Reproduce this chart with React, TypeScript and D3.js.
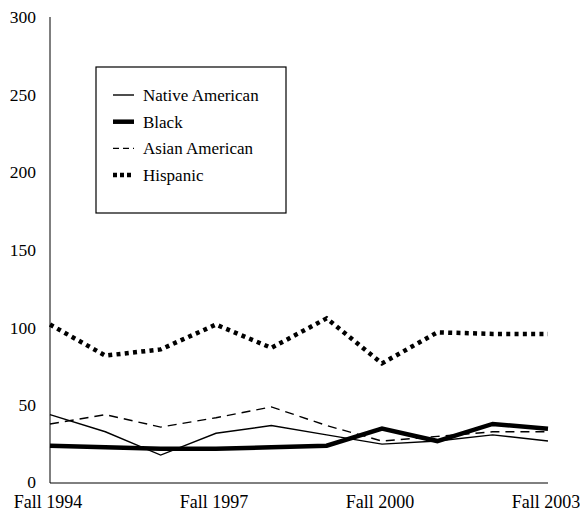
import React from "react";
import * as d3 from "d3";

const years = [1994, 1995, 1996, 1997, 1998, 1999, 2000, 2001, 2002, 2003];
const tickYears = [1994, 1997, 2000, 2003];
const yTicks = [0, 50, 100, 150, 200, 250, 300];

const nativeAmerican = [44, 33, 18, 32, 37, 31, 25, 27, 31, 27];
const black = [24, 23, 22, 22, 23, 24, 35, 27, 38, 35];
const asianAmerican = [38, 44, 36, 42, 49, 37, 27, 30, 33, 33];
const hispanic = [102, 82, 86, 102, 87, 106, 77, 97, 96, 96];

const seriesNames = ["Native American", "Black", "Asian American", "Hispanic"];

const styles = [
  { width: 1.4, dash: "" },
  { width: 4.5, dash: "" },
  { width: 1.4, dash: "9 6" },
  { width: 4.5, dash: "4 4.3" },
];

export default function App() {
  const W = 580, H = 515;
  const x = d3.scaleLinear().domain([1994, 2003]).range([50, 548]);
  const y = d3.scaleLinear().domain([0, 300]).range([483, 17]);
  const line = d3
    .line<number>()
    .x((_, i) => x(years[i]))
    .y((d) => y(d));
  const data = [nativeAmerican, black, asianAmerican, hispanic];
  const font = "Liberation Serif";

  return (
    <svg
      width={W}
      height={H}
      style={{ position: "absolute", left: 0, top: 0, background: "#fff" }}
    >
      <rect width={W} height={H} fill="#fff" />
      {data.map((d, i) => (
        <path
          key={i}
          d={line(d) || ""}
          fill="none"
          stroke="#000"
          strokeWidth={styles[i].width}
          strokeDasharray={styles[i].dash}
          strokeLinejoin="miter"
        />
      ))}
      <line x1={50} x2={50} y1={y(300)} y2={y(0)} stroke="#000" strokeWidth={1} />
      <line x1={50} x2={548} y1={y(0)} y2={y(0)} stroke="#000" strokeWidth={1} />
      {yTicks.map((t) => (
        <text key={t} x={36} y={y(t) - (t === 0 ? 1 : 0)} dy="0.35em" textAnchor="end" fill="#000"
          style={{ fontFamily: font, fontSize: "17.5px" }}>
          {t}
        </text>
      ))}
      {tickYears.map((t) => (
        <text key={t} x={x(t) - 2} y={508} textAnchor="middle" fill="#000"
          style={{ fontFamily: font, fontSize: "18px" }}>
          {"Fall " + t}
        </text>
      ))}
      <rect x={96} y={67} width={190} height={146} fill="#fff" stroke="#000" strokeWidth={1.2} />
      {seriesNames.map((n, i) => {
        const ry = 95 + i * 26.7;
        return (
          <g key={n}>
            <line
              x1={113}
              x2={134}
              y1={ry}
              y2={ry}
              stroke="#000"
              strokeWidth={styles[i].width}
              strokeDasharray={i === 2 ? "6 4" : i === 3 ? "4 3" : ""}
            />
            <text x={143} y={ry} dy="0.35em" fill="#000"
              style={{ fontFamily: font, fontSize: "17px" }}>
              {n}
            </text>
          </g>
        );
      })}
    </svg>
  );
}
